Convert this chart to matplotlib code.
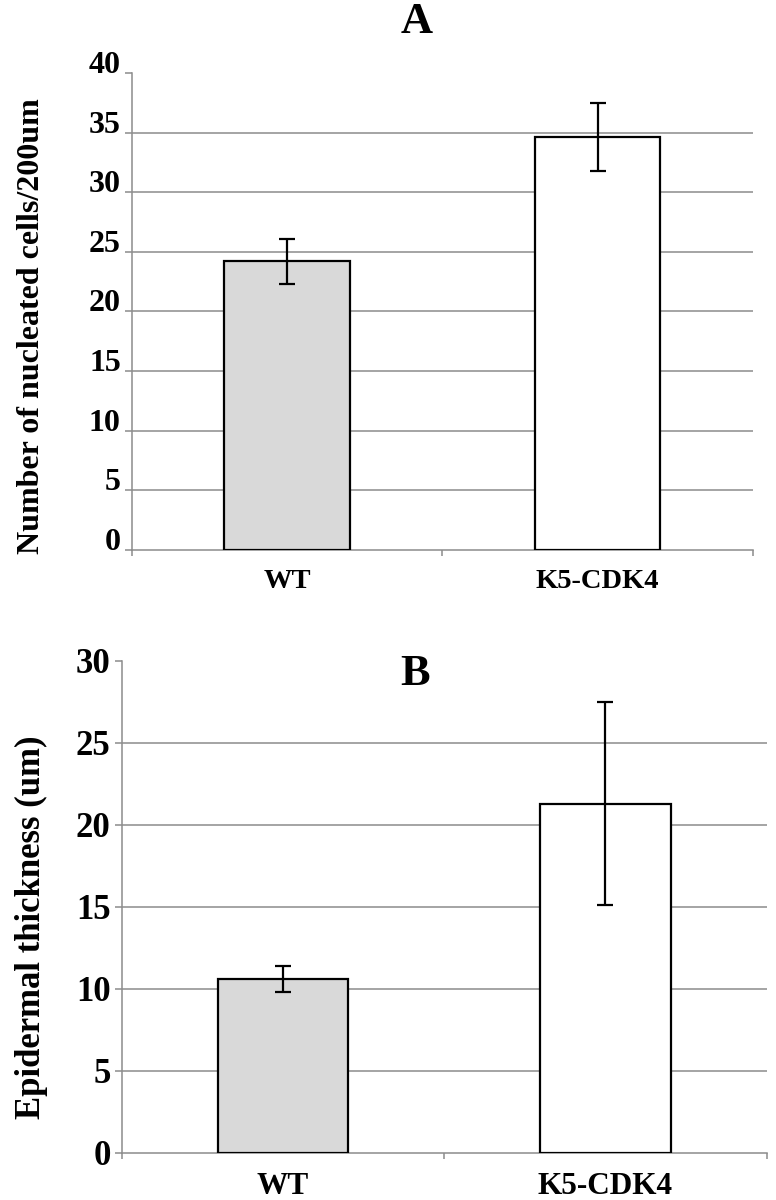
import numpy as np
import matplotlib.pyplot as plt

plt.rcParams['font.family'] = ['Liberation Serif', 'DejaVu Serif']
plt.rcParams['font.weight'] = 'bold'

groups = ['WT', 'K5-CDK4']
bar_colors = ['#d9d9d9', '#ffffff']

# panel A: nucleated cells per 200um
cells_mean = [24.2, 34.6]
cells_err = [1.9, 2.85]

# panel B: epidermal thickness
thick_mean = [10.6, 21.3]
thick_err = [0.8, 6.2]

grid_col = '#8c8c8c'


def draw_panel(ax, means, errs, ymax, tick_size, label_size):
    x = np.arange(len(groups)) + 0.5
    ax.bar(x, means, width=0.405, color=bar_colors, edgecolor='black',
           linewidth=1.6, zorder=3)
    ax.errorbar(x, means, yerr=errs, fmt='none', ecolor='black',
                elinewidth=1.6, capsize=5.5, capthick=1.6, zorder=4)
    ax.set_xlim(0, len(groups))
    ax.set_ylim(0, ymax)
    ax.set_yticks(np.arange(0, ymax + 1, 5))
    for y in np.arange(5, ymax, 5):
        ax.axhline(y, color=grid_col, linewidth=1.1, zorder=1)
    ax.set_xticks([0, 1, 2])
    ax.set_xticklabels([])
    ax.set_xticks(x, minor=True)
    ax.set_xticklabels(groups, minor=True, fontsize=label_size, fontweight='bold')
    ax.tick_params(axis='x', which='minor', length=0, pad=14)
    ax.tick_params(axis='x', which='major', length=4, color=grid_col, width=1.1)
    ax.tick_params(axis='y', length=5, color=grid_col, width=1.1,
                   labelsize=tick_size, pad=3)
    for t in ax.get_yticklabels():
        t.set_fontweight('bold')
    for s in ['top', 'right']:
        ax.spines[s].set_visible(False)
    for s in ['left', 'bottom']:
        ax.spines[s].set_color(grid_col)
        ax.spines[s].set_linewidth(1.1)


fig = plt.figure(figsize=(7.76, 12), dpi=100)

axA = fig.add_axes([0.170, 0.5417, 0.800, 0.3975])
draw_panel(axA, cells_mean, cells_err, 40, 23, 20.5)
for t in axA.get_yticklabels():
    t.set_verticalalignment('baseline')

axB = fig.add_axes([0.157, 0.0392, 0.831, 0.4100])
draw_panel(axB, thick_mean, thick_err, 30, 25, 22.5)

fig.text(0.537, 0.982, 'A', fontsize=32, fontweight='bold', ha='center', va='center')
fig.text(0.535, 0.438, 'B', fontsize=32, fontweight='bold', ha='center', va='center')

fig.text(0.040, 0.728, 'Number of nucleated cells/200um', rotation=90,
         fontsize=23, fontweight='bold', ha='center', va='center')
fig.text(0.040, 0.227, 'Epidermal thickness (um)', rotation=90,
         fontsize=25, fontweight='bold', ha='center', va='center')

fig.savefig('out.png', dpi=100)
